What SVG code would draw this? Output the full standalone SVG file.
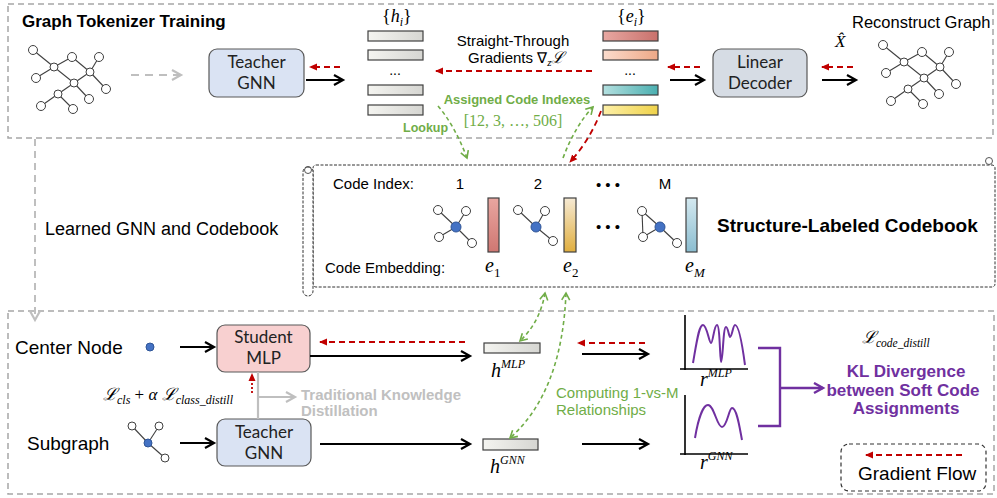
<svg xmlns="http://www.w3.org/2000/svg" width="997" height="498" viewBox="0 0 997 498">
<style>
.sans{font-family:"Liberation Sans",Arial,sans-serif}
.cal{font-family:Lato,"Liberation Sans",sans-serif;font-size:17px;fill:#222}
.math{font-family:"Liberation Serif","DejaVu Serif",serif;font-style:italic}
.up{font-style:normal}
.box{stroke:#595959;stroke-width:1.2}
.region{fill:none;stroke:#a6a6a6;stroke-width:1.5;stroke-dasharray:6 4}
.blk{stroke:#000;stroke-width:2.2;fill:none;marker-end:url(#ab)}
.red{stroke:#c00000;stroke-width:1.8;fill:none;stroke-dasharray:6 4;marker-end:url(#ar)}
.grn{stroke:#70ad47;stroke-width:1.6;fill:none;stroke-dasharray:4 3}
.node{fill:#fff;stroke:#404040;stroke-width:1}
.bnode{fill:#4472c4;stroke:#2f5597;stroke-width:1}
.edge{stroke:#404040;stroke-width:1.1}
.bar{stroke:#404040;stroke-width:1.2}
.pur{fill:#7030a0;font-weight:bold;font-size:17px}
</style>
<defs>
<marker id="ab" markerUnits="userSpaceOnUse" markerWidth="14" markerHeight="14" refX="10" refY="6" orient="auto"><path d="M1,1 L10,6 L1,11" fill="none" stroke="#000" stroke-width="2.2"/></marker>
<marker id="ar" markerUnits="userSpaceOnUse" markerWidth="10" markerHeight="10" refX="7" refY="4" orient="auto"><path d="M0,0.5 L8,4 L0,7.5 z" fill="#c00000"/></marker>
<marker id="ag" markerUnits="userSpaceOnUse" markerWidth="14" markerHeight="14" refX="10" refY="6" orient="auto"><path d="M1,1 L10,6 L1,11" fill="none" stroke="#bfbfbf" stroke-width="2.2"/></marker>
<marker id="agr" markerUnits="userSpaceOnUse" markerWidth="12" markerHeight="12" refX="8" refY="5" orient="auto-start-reverse"><path d="M1,1 L8,5 L1,9" fill="none" stroke="#70ad47" stroke-width="1.6"/></marker>
<marker id="ap" markerUnits="userSpaceOnUse" markerWidth="14" markerHeight="14" refX="10" refY="6" orient="auto"><path d="M1,1 L10,6 L1,11" fill="none" stroke="#7030a0" stroke-width="2.4"/></marker>
<linearGradient id="gh" x1="0" x2="1"><stop offset="0" stop-color="#f4f4f0"/><stop offset="1" stop-color="#d6d6d2"/></linearGradient>
<linearGradient id="ge1" x1="0" x2="1"><stop offset="0" stop-color="#e8a8a2"/><stop offset="1" stop-color="#c9716c"/></linearGradient>
<linearGradient id="ge2" x1="0" x2="1"><stop offset="0" stop-color="#fbdccd"/><stop offset="1" stop-color="#eea886"/></linearGradient>
<linearGradient id="ge3" x1="0" x2="1"><stop offset="0" stop-color="#b4e0e0"/><stop offset="1" stop-color="#4aafb0"/></linearGradient>
<linearGradient id="ge4" x1="0" x2="1"><stop offset="0" stop-color="#fdf0a8"/><stop offset="1" stop-color="#efd24a"/></linearGradient>
<linearGradient id="gc1" x1="0" y1="0" x2="0" y2="1"><stop offset="0" stop-color="#e9a6a0"/><stop offset="1" stop-color="#cf7772"/></linearGradient>
<linearGradient id="gc2" x1="0" y1="0" x2="0" y2="1"><stop offset="0" stop-color="#f6ead4"/><stop offset="1" stop-color="#e0ae3e"/></linearGradient>
<linearGradient id="gc3" x1="0" y1="0" x2="0" y2="1"><stop offset="0" stop-color="#d4e9f0"/><stop offset="1" stop-color="#8bbdd0"/></linearGradient>
<g id="graph">
<g class="edge">
<line x1="33" y1="50" x2="54" y2="67"/><line x1="54" y1="67" x2="72" y2="57"/><line x1="72" y1="57" x2="90" y2="72"/><line x1="54" y1="67" x2="36" y2="78"/><line x1="54" y1="67" x2="74" y2="83"/><line x1="99" y1="57" x2="90" y2="72"/><line x1="90" y1="72" x2="74" y2="83"/><line x1="90" y1="72" x2="106" y2="89"/><line x1="74" y1="83" x2="58" y2="94"/><line x1="74" y1="83" x2="89" y2="99"/><line x1="58" y1="94" x2="41" y2="106"/><line x1="58" y1="94" x2="73" y2="109"/>
</g>
<g class="node">
<circle cx="33" cy="50" r="4.5"/><circle cx="54" cy="67" r="4"/><circle cx="72" cy="57" r="4.5"/><circle cx="99" cy="57" r="4.5"/><circle cx="90" cy="72" r="4"/><circle cx="36" cy="78" r="4.5"/><circle cx="74" cy="83" r="4"/><circle cx="106" cy="89" r="4.5"/><circle cx="58" cy="94" r="4"/><circle cx="89" cy="99" r="4.5"/><circle cx="41" cy="106" r="4.5"/><circle cx="73" cy="109" r="4.5"/>
</g>
</g>
</defs>

<!-- regions -->
<rect class="region" x="8" y="4" width="985" height="134"/>
<rect class="region" x="8" y="311" width="986" height="183"/>
<text class="sans" x="22" y="27" font-size="17" font-weight="bold">Graph Tokenizer Training</text>
<text class="sans" x="45" y="235" font-size="18">Learned GNN and Codebook</text>

<!-- top graphs -->
<g id="input-graph"><use href="#graph"/></g>
<g id="reconstruct-graph"><use href="#graph" transform="translate(850,-5)"/>
<text class="sans" x="852" y="28" font-size="16.5">Reconstruct Graph</text></g>

<g id="teacher-gnn-top">
<rect class="box" x="209" y="49" width="95" height="48" rx="8" fill="#dae3f3"/>
<text class="cal" x="256.5" y="68" text-anchor="middle">Teacher</text>
<text class="cal" x="256.5" y="89" text-anchor="middle">GNN</text>
</g>

<g id="h-embeddings">
<text class="math" x="382" y="22" font-size="18"><tspan class="up">{</tspan>h<tspan font-size="12" dy="4">i</tspan><tspan dy="-4" class="up">}</tspan></text>
<rect class="bar" x="368" y="31" width="55" height="10" fill="url(#gh)"/>
<rect class="bar" x="368" y="50" width="55" height="10" fill="url(#gh)"/>
<text class="sans" x="395" y="75" font-size="14" text-anchor="middle">...</text>
<rect class="bar" x="368" y="85" width="55" height="10" fill="url(#gh)"/>
<rect class="bar" x="368" y="105" width="55" height="10" fill="url(#gh)"/>
</g>

<g id="e-embeddings">
<text class="math" x="617" y="22" font-size="18"><tspan class="up">{</tspan>e<tspan font-size="12" dy="4">i</tspan><tspan dy="-4" class="up">}</tspan></text>
<rect class="bar" x="603" y="31" width="55" height="10" fill="url(#ge1)"/>
<rect class="bar" x="603" y="50" width="55" height="10" fill="url(#ge2)"/>
<text class="sans" x="630" y="75" font-size="14" text-anchor="middle">...</text>
<rect class="bar" x="603" y="85" width="55" height="10" fill="url(#ge3)"/>
<rect class="bar" x="603" y="105" width="55" height="10" fill="url(#ge4)"/>
</g>

<g id="linear-decoder">
<rect class="box" x="713" y="49" width="94" height="48" rx="8" fill="#d6dce4"/>
<text class="cal" x="760" y="68" text-anchor="middle">Linear</text>
<text class="cal" x="760" y="89" text-anchor="middle">Decoder</text>
</g>

<text class="sans" x="513" y="46" font-size="15" text-anchor="middle">Straight-Through</text>
<text class="sans" x="468" y="63" font-size="15">Gradients ∇<tspan class="math" font-size="11" dy="3">z</tspan><tspan class="math" dy="-3" font-size="16">ℒ</tspan></text>
<text class="math" x="835" y="47" font-size="17">X̂</text>

<text class="sans" x="517" y="104" font-size="13" font-weight="bold" fill="#70ad47" text-anchor="middle">Assigned Code Indexes</text>
<text x="513" y="126" font-family="'Liberation Serif','DejaVu Serif',serif" font-size="16" fill="#70ad47" text-anchor="middle">[12, 3, …, 506]</text>
<text class="sans" x="403" y="132" font-size="12.5" font-weight="bold" fill="#70ad47">Lookup</text>

<!-- codebook -->
<g id="codebook">
<rect x="313" y="165" width="682" height="122" rx="3" fill="none" stroke="#333" stroke-width="1" stroke-dasharray="3 1.5"/>
<rect x="303" y="167" width="10" height="129" rx="5" fill="#fff" stroke="#333" stroke-width="1" stroke-dasharray="3 1.5"/>
<circle cx="308" cy="170" r="3.5" fill="none" stroke="#555" stroke-width="1"/>
<circle cx="989" cy="161" r="3.5" fill="#fff" stroke="#555" stroke-width="1"/>
<text class="sans" x="333" y="189" font-size="15">Code Index:</text>
<text class="sans" x="325" y="273" font-size="15">Code Embedding:</text>
<text class="sans" x="460" y="189" font-size="15" text-anchor="middle">1</text>
<text class="sans" x="538" y="189" font-size="15" text-anchor="middle">2</text>
<text class="sans" x="608" y="190" font-size="15" text-anchor="middle">• • •</text>
<text class="sans" x="665" y="189" font-size="15" text-anchor="middle">M</text>
<text class="sans" x="608" y="232" font-size="15" text-anchor="middle">• • •</text>
<g class="edge"><line x1="438" y1="210" x2="456" y2="227"/><line x1="466" y1="211" x2="456" y2="227"/><line x1="439" y1="237" x2="456" y2="227"/><line x1="472" y1="243" x2="456" y2="227"/>
<line x1="518" y1="210" x2="536" y2="227"/><line x1="545" y1="211" x2="536" y2="227"/><line x1="553" y1="241" x2="536" y2="227"/>
<line x1="642" y1="211" x2="643" y2="237"/><line x1="642" y1="211" x2="660" y2="227"/><line x1="643" y1="237" x2="660" y2="227"/><line x1="677" y1="243" x2="660" y2="227"/></g>
<g class="node"><circle cx="438" cy="210" r="4.5"/><circle cx="466" cy="211" r="4.5"/><circle cx="439" cy="237" r="4.5"/><circle cx="472" cy="243" r="4.5"/>
<circle cx="518" cy="210" r="4.5"/><circle cx="545" cy="211" r="4.5"/><circle cx="553" cy="241" r="4.5"/>
<circle cx="642" cy="211" r="4.5"/><circle cx="643" cy="237" r="4.5"/><circle cx="677" cy="243" r="4.5"/></g>
<g class="bnode"><circle cx="456" cy="227" r="5"/><circle cx="536" cy="227" r="5"/><circle cx="660" cy="227" r="5"/></g>
<rect class="bar" x="488" y="198" width="11" height="54" fill="url(#gc1)"/>
<rect class="bar" x="564" y="198" width="12" height="54" fill="url(#gc2)"/>
<rect class="bar" x="686" y="198" width="11" height="54" fill="url(#gc3)"/>
<text class="math" x="485" y="272" font-size="20">e<tspan class="up" font-size="13" dy="5">1</tspan></text>
<text class="math" x="563" y="272" font-size="20">e<tspan class="up" font-size="13" dy="5">2</tspan></text>
<text class="math" x="685" y="272" font-size="20">e<tspan font-size="13" dy="5">M</tspan></text>
<text class="sans" x="717" y="232" font-size="19" font-weight="bold">Structure-Labeled Codebook</text>
</g>

<!-- bottom -->
<text class="sans" x="15" y="354" font-size="19">Center Node</text>
<circle class="bnode" cx="150" cy="347" r="4"/>
<text class="sans" x="27" y="450" font-size="19">Subgraph</text>
<g id="subgraph-icon">
<g class="edge"><line x1="132" y1="426" x2="148" y2="443"/><line x1="159" y1="426" x2="148" y2="443"/><line x1="165" y1="458" x2="148" y2="443"/></g>
<g class="node"><circle cx="132" cy="426" r="4"/><circle cx="159" cy="426" r="4"/><circle cx="165" cy="458" r="4"/></g>
<circle class="bnode" cx="148" cy="443" r="4"/>
</g>

<g id="student-mlp">
<rect class="box" x="217" y="325" width="93" height="47" rx="8" fill="#f8d0d0"/>
<text class="cal" x="263.5" y="343" text-anchor="middle">Student</text>
<text class="cal" x="263.5" y="364" text-anchor="middle">MLP</text>
</g>
<g id="teacher-gnn-bottom">
<rect class="box" x="217" y="419" width="94" height="47" rx="8" fill="#dae3f3"/>
<text class="cal" x="264" y="438" text-anchor="middle">Teacher</text>
<text class="cal" x="264" y="459" text-anchor="middle">GNN</text>
</g>

<text class="math" x="103" y="400" font-size="17">ℒ<tspan font-size="12" dy="4">cls</tspan><tspan dy="-4" class="up"> + </tspan>α ℒ<tspan font-size="12" dy="4">class_distill</tspan></text>
<text class="sans" x="301" y="400" font-size="15" font-weight="bold" fill="#c0c0c0">Traditional Knowledge</text>
<text class="sans" x="301" y="416" font-size="15" font-weight="bold" fill="#c0c0c0">Distillation</text>

<g id="h-mlp">
<rect class="bar" x="484" y="343" width="56" height="10" fill="url(#gh)"/>
<text class="math" x="491" y="377" font-size="20">h<tspan font-size="12" dy="-9">MLP</tspan></text>
</g>
<g id="h-gnn">
<rect class="bar" x="483" y="439" width="55" height="11" fill="url(#gh)"/>
<text class="math" x="490" y="473" font-size="20">h<tspan font-size="12" dy="-9">GNN</tspan></text>
</g>

<text class="sans" x="556" y="398" font-size="15" fill="#70ad47">Computing 1-vs-M</text>
<text class="sans" x="556" y="415" font-size="15" fill="#70ad47">Relationships</text>

<g id="r-mlp">
<path d="M685,315 V370 M680,369 H748" stroke="#000" stroke-width="1.6" fill="none"/>
<path d="M693,363 C697,340 699,325 703,325 C707,325 709,343 711,343 C713,343 714,325 717,325 C720,325 720,362 721,362 C723,362 723,327 726,327 C728,327 729,337 730,337 C732,337 733,325 735,325 C739,325 743,350 745,365" stroke="#7030a0" stroke-width="2" fill="none"/>
<text class="math" x="700" y="386" font-size="20">r<tspan font-size="12" dy="-9">MLP</tspan></text>
</g>
<g id="r-gnn">
<path d="M685,395 V455 M680,454 H748" stroke="#000" stroke-width="1.6" fill="none"/>
<path d="M695,438 C698,420 703,405 708,405 C714,405 717,427 722,427 C727,427 729,408 732,408 C737,408 740,430 742,440" stroke="#7030a0" stroke-width="2" fill="none"/>
<text class="math" x="700" y="469" font-size="20">r<tspan font-size="12" dy="-9">GNN</tspan></text>
</g>

<g id="kl">
<text class="math" x="862" y="343" font-size="17">ℒ<tspan font-size="11.5" dy="4">code_distill</tspan></text>
<text class="sans pur" x="906" y="377" text-anchor="middle">KL Divergence</text>
<text class="sans pur" x="903" y="396" text-anchor="middle">between Soft Code</text>
<text class="sans pur" x="906" y="414" text-anchor="middle">Assignments</text>
</g>

<g id="legend">
<rect x="841" y="444" width="145" height="47" rx="8" fill="none" stroke="#333" stroke-width="1.2" stroke-dasharray="4 3"/>
<line class="red" x1="962" y1="455" x2="866" y2="455"/>
<text class="sans" x="858" y="480" font-size="19">Gradient Flow</text>
</g>

<!-- connectors -->
<g id="connectors">
<line x1="131" y1="75" x2="181" y2="75" stroke="#bfbfbf" stroke-width="2.2" stroke-dasharray="8 6" marker-end="url(#ag)"/>
<line x1="35" y1="139" x2="35" y2="320" stroke="#bfbfbf" stroke-width="2" stroke-dasharray="7 5" marker-end="url(#ag)"/>
<line class="blk" x1="306" y1="80" x2="343" y2="80"/>
<line class="red" x1="340" y1="67" x2="310" y2="67"/>
<line class="red" x1="592" y1="71" x2="436" y2="71"/>
<line class="blk" x1="670" y1="80" x2="704" y2="80"/>
<line class="red" x1="700" y1="67" x2="668" y2="67"/>
<line class="blk" x1="822" y1="80" x2="856" y2="80"/>
<line class="red" x1="853" y1="67" x2="822" y2="67"/>
<path class="grn" d="M438,106 Q455,126 467,158" marker-end="url(#agr)"/>
<path class="grn" d="M563,158 Q575,126 593,107" marker-end="url(#agr)"/>
<path class="red" d="M601,111 Q590,140 570,162"/>
<path class="grn" d="M545,293 Q540,322 520,341" marker-start="url(#agr)" marker-end="url(#agr)"/>
<path class="grn" d="M566,293 Q562,392 510,438" marker-start="url(#agr)" marker-end="url(#agr)"/>
<line class="blk" x1="180" y1="347" x2="214" y2="347"/>
<line class="blk" x1="180" y1="443" x2="214" y2="443"/>
<line class="red" x1="465" y1="342" x2="320" y2="342"/>
<line class="blk" x1="310" y1="356" x2="470" y2="356"/>
<line class="blk" x1="320" y1="444" x2="470" y2="444"/>
<line x1="252" y1="393" x2="252" y2="374" stroke="#c00000" stroke-width="1.8" stroke-dasharray="2 2" marker-end="url(#ar)"/>
<line x1="258" y1="372" x2="258" y2="419" stroke="#bfbfbf" stroke-width="2.2"/>
<line x1="258" y1="397" x2="295" y2="397" stroke="#bfbfbf" stroke-width="2.2" marker-end="url(#ag)"/>
<line class="red" x1="645" y1="343" x2="578" y2="343"/>
<line class="blk" x1="582" y1="354" x2="648" y2="354"/>
<line class="blk" x1="582" y1="444" x2="648" y2="444"/>
<path d="M758,348 H780 V426 H758" stroke="#7030a0" stroke-width="2.4" fill="none"/>
<line x1="780" y1="388" x2="823" y2="388" stroke="#7030a0" stroke-width="2.4" marker-end="url(#ap)"/>
</g>
</svg>
